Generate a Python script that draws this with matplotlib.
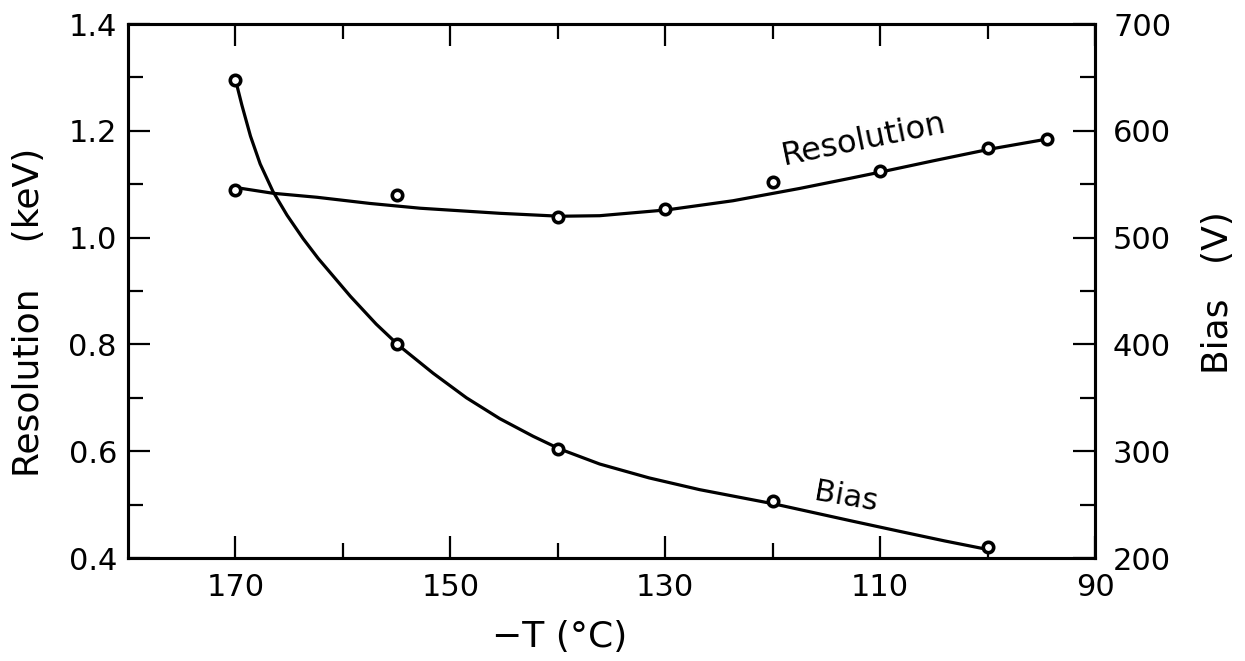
import matplotlib
matplotlib.use("Agg")
import matplotlib.pyplot as plt
from matplotlib.ticker import FixedLocator, FuncFormatter

# ---------------- data ----------------
res_T = [170, 155, 140, 130, 120, 110, 100, 94.5]
res_keV = [1.089, 1.080, 1.039, 1.053, 1.105, 1.125, 1.167, 1.184]

bias_T = [170, 155, 140, 120, 100]
bias_V = [648, 400, 302, 253, 210]

# smooth hand-drawn curves (knots)
res_curve_T = [170.0, 169.4, 166.5, 162.4, 157.5, 152.8, 145.4, 139.8, 136.1,
               129.8, 123.7, 117.5, 112.8, 109.9, 105.0, 99.7, 94.6]
res_curve_keV = [1.091, 1.092, 1.083, 1.0755, 1.064, 1.055, 1.0455, 1.040, 1.041,
                 1.052, 1.069, 1.092, 1.111, 1.123, 1.144, 1.166, 1.184]

bias_curve_T = [170.0, 169.4, 168.6, 167.7, 166.5, 165.2, 163.7, 162.3, 159.3,
                156.9, 154.8, 151.6, 148.5, 145.4, 142.3, 139.8, 136.1, 131.5,
                126.8, 119.8, 112.8, 108.2, 104.0, 100.0]
bias_curve_V = [648, 624, 595, 569, 543, 521, 499, 480.5, 445,
                419, 399, 373, 350, 330.5, 314, 302, 288, 275,
                264, 250.5, 235, 225, 216, 208]

x_major = [170, 150, 130, 110, 90]
x_minor = [160, 140, 120, 100]
left_major = [0.4, 0.6, 0.8, 1.0, 1.2, 1.4]
left_minor = [0.5, 0.7, 0.9, 1.1, 1.3]
right_major = [200, 300, 400, 500, 600, 700]
right_minor = [250, 350, 450, 550, 650]

# ---------------- figure ----------------
plt.rcParams['font.family'] = ['DejaVu Sans']
fig = plt.figure(figsize=(12.45, 6.61), dpi=100)
ax = fig.add_axes([128 / 1245, 1 - 558 / 661, (1095 - 128) / 1245, (558 - 24) / 661])
ax2 = ax.twinx()

ax.set_xlim(180, 90)
ax.set_ylim(0.4, 1.4)
ax2.set_ylim(200, 700)

lw = 2.3
ax.plot(res_curve_T, res_curve_keV, color='black', lw=lw, solid_capstyle='round',
        solid_joinstyle='round', zorder=3)
ax.plot(res_T, res_keV, linestyle='none', marker='o', ms=7.5, mfc='white', mec='black',
        mew=2.6, zorder=4, clip_on=False)
ax2.plot(bias_curve_T, bias_curve_V, color='black', lw=lw, solid_capstyle='round',
         solid_joinstyle='round', zorder=3)
ax2.plot(bias_T, bias_V, linestyle='none', marker='o', ms=7.5, mfc='white', mec='black',
         mew=2.6, zorder=4, clip_on=False)

# ticks
ax.xaxis.set_major_locator(FixedLocator(x_major))
ax.xaxis.set_minor_locator(FixedLocator(x_minor))
ax.xaxis.set_major_formatter(FuncFormatter(lambda v, p: f"{v:.0f}"))
ax.yaxis.set_major_locator(FixedLocator(left_major))
ax.yaxis.set_minor_locator(FixedLocator(left_minor))
ax.yaxis.set_major_formatter(FuncFormatter(lambda v, p: f"{v:.1f}"))
ax2.yaxis.set_major_locator(FixedLocator(right_major))
ax2.yaxis.set_minor_locator(FixedLocator(right_minor))
ax2.yaxis.set_major_formatter(FuncFormatter(lambda v, p: f"{v:.0f}"))

ax.tick_params(axis='both', which='both', direction='in', top=True, right=False,
               width=1.6, color='black')
ax.tick_params(axis='both', which='major', length=16, labelsize=22)
ax.tick_params(axis='both', which='minor', length=11)
ax.tick_params(axis='x', which='major', pad=11)
ax.tick_params(axis='y', which='major', pad=8)
ax2.tick_params(axis='y', which='both', direction='in', left=False, right=True,
                width=1.6, color='black')
ax2.tick_params(axis='y', which='major', length=16, labelsize=22, pad=13)
ax2.tick_params(axis='y', which='minor', length=11)

for a in (ax, ax2):
    for s in a.spines.values():
        s.set_linewidth(2.2)

# axis labels
fig.text(29 / 1245, 1 - 312 / 661, "Resolution    (keV)", rotation=90,
         ha='center', va='center', fontsize=26)
fig.text(1218 / 1245, 1 - 293 / 661, "Bias   (V)", rotation=90,
         ha='center', va='center', fontsize=26)
fig.text(560 / 1245, 1 - 637 / 661, "\u2212T (\u00b0C)", ha='center', va='center',
         fontsize=26)

# in-plot labels
ax.text(119.0, 1.136, "Resolution", rotation=11.6, rotation_mode='anchor',
        ha='left', va='baseline', fontsize=23)
ax2.text(116.2, 254, "Bias", rotation=-10, rotation_mode='anchor',
         ha='left', va='baseline', fontsize=22)

fig.savefig("out.png", dpi=100, facecolor='white')
